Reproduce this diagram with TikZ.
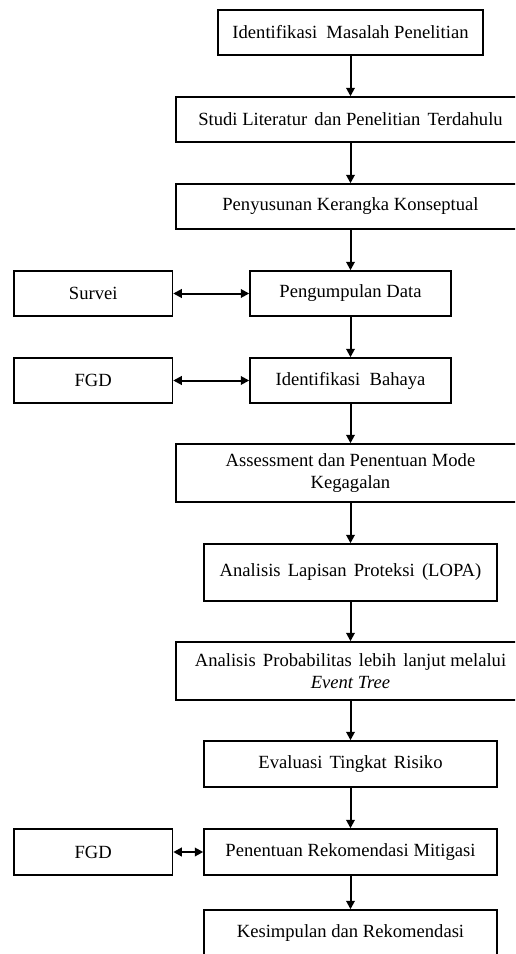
\documentclass[tikz,border=0pt]{standalone}
\usepackage{fontspec}
\setmainfont{Liberation Serif}
\usetikzlibrary{arrows.meta}
\newcommand{\wsp}{\hspace{2.5pt}}
\begin{document}
\begin{tikzpicture}[x=1pt,y=-1pt,
  box/.style={draw,line width=1.5pt,rectangle,inner sep=0pt,align=center,
    font=\fontsize{18.6}{22}\selectfont,minimum height=45pt},
  arr/.style={line width=2pt,-{Triangle[length=8.5pt,width=8.5pt]}},
  darr/.style={line width=2pt,{Triangle[length=8.5pt,width=8.5pt]}-{Triangle[length=8.5pt,width=8.5pt]}}]
\clip (0,0) rectangle (515,954);
\fill[white] (0,0) rectangle (515,954);
\node[box,minimum width=265pt] (b1) at (350.5,32.25) {Identifikasi\ \ Masalah Penelitian};
\node[box,minimum width=349pt] (b2) at (350.5,119.5) {Studi Literatur\wsp{} dan Penelitian\wsp{} Terdahulu};
\node[box,minimum width=349pt] (b3) at (350.5,206.5) {Penyusunan Kerangka Konseptual};
\node[box,minimum width=201pt] (b4) at (350.5,293.5) {Pengumpulan Data};
\node[box,minimum width=158.5pt] (s1) at (93.25,293.5) {Survei};
\node[box,minimum width=201pt] (b5) at (350.5,380.5) {Identifikasi\ \ Bahaya};
\node[box,minimum width=158.5pt] (f1) at (93.25,380.5) {FGD};
\node[box,minimum width=349pt,minimum height=58pt] (b6) at (350.5,473) {Assessment dan Penentuan Mode\\Kegagalan};
\node[box,minimum width=293pt,minimum height=57pt] (b7) at (350.5,572.5) {Analisis\wsp{} Lapisan\wsp{} Proteksi\wsp{} (LOPA)};
\node[box,minimum width=349pt,minimum height=58pt] (b8) at (350.5,671) {Analisis\wsp{} Probabilitas\wsp{} lebih\wsp{} lanjut melalui\\\textit{Event Tree}};
\node[box,minimum width=293pt,minimum height=46pt] (b9) at (350.5,764) {Evaluasi\wsp{} Tingkat\wsp{} Risiko};
\node[box,minimum width=293pt,minimum height=46pt] (b10) at (350.5,852) {Penentuan Rekomendasi Mitigasi};
\node[box,minimum width=158.5pt,minimum height=46pt] (f2) at (93.25,852) {FGD};
\node[box,minimum width=293pt,minimum height=46pt] (b11) at (350.5,933) {Kesimpulan dan Rekomendasi};
\draw[arr] (b1.south) -- (b2.north);
\draw[arr] (b2.south) -- (b3.north);
\draw[arr] (b3.south) -- (b4.north);
\draw[arr] (b4.south) -- (b5.north);
\draw[arr] (b5.south) -- (b6.north);
\draw[arr] (b6.south) -- (b7.north);
\draw[arr] (b7.south) -- (b8.north);
\draw[arr] (b8.south) -- (b9.north);
\draw[arr] (b9.south) -- (b10.north);
\draw[arr] (b10.south) -- (b11.north);
\draw[darr] (s1.east) -- (b4.west);
\draw[darr] (f1.east) -- (b5.west);
\draw[darr] (f2.east) -- (b10.west);
\end{tikzpicture}
\end{document}
